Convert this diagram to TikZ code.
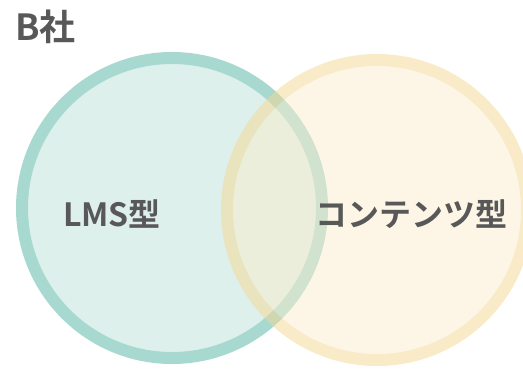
\documentclass[tikz,border=0pt]{standalone}
\usepackage{fontspec}
\setmainfont{Noto Sans CJK JP}[BoldFont={Noto Sans CJK JP Bold}]
\usetikzlibrary{positioning}

\definecolor{lmsline}{RGB}{168,217,208}
\definecolor{lmsfill}{RGB}{221,240,236}
\definecolor{conline}{RGB}{246,215,146}
\definecolor{confill}{RGB}{251,238,206}
\definecolor{labelgray}{RGB}{88,88,88}

\tikzset{
  setcircle/.style={circle, line width=12pt, minimum size=300pt, inner sep=0pt},
  setlabel/.style={text=labelgray, font=\bfseries\fontsize{32}{38}\selectfont, inner sep=0pt},
}

\begin{document}
\begin{tikzpicture}[x=1pt, y=1pt]

      \useasboundingbox (0,0) rectangle (523,368);

      % Define sets
	  \node[setcircle, draw=lmsline, fill=lmsfill]   (lms) at (172,160) {};
	  \begin{scope}[transparency group, opacity=0.5]
	  \node[setcircle, draw=conline, fill=confill]   (con) at (377,158) {};
	  \end{scope}

	  % Labels
	  \node[setlabel]                    (lms-label) at (112,154) {LMS型};
	  \node[setlabel]                    (con-label) at (411,154) {コンテンツ型};
	  \node[setlabel, font=\bfseries\fontsize{36}{42}\selectfont,
	        anchor=west]                 (title) at (15,341) {B社};

	\end{tikzpicture}
\end{document}
